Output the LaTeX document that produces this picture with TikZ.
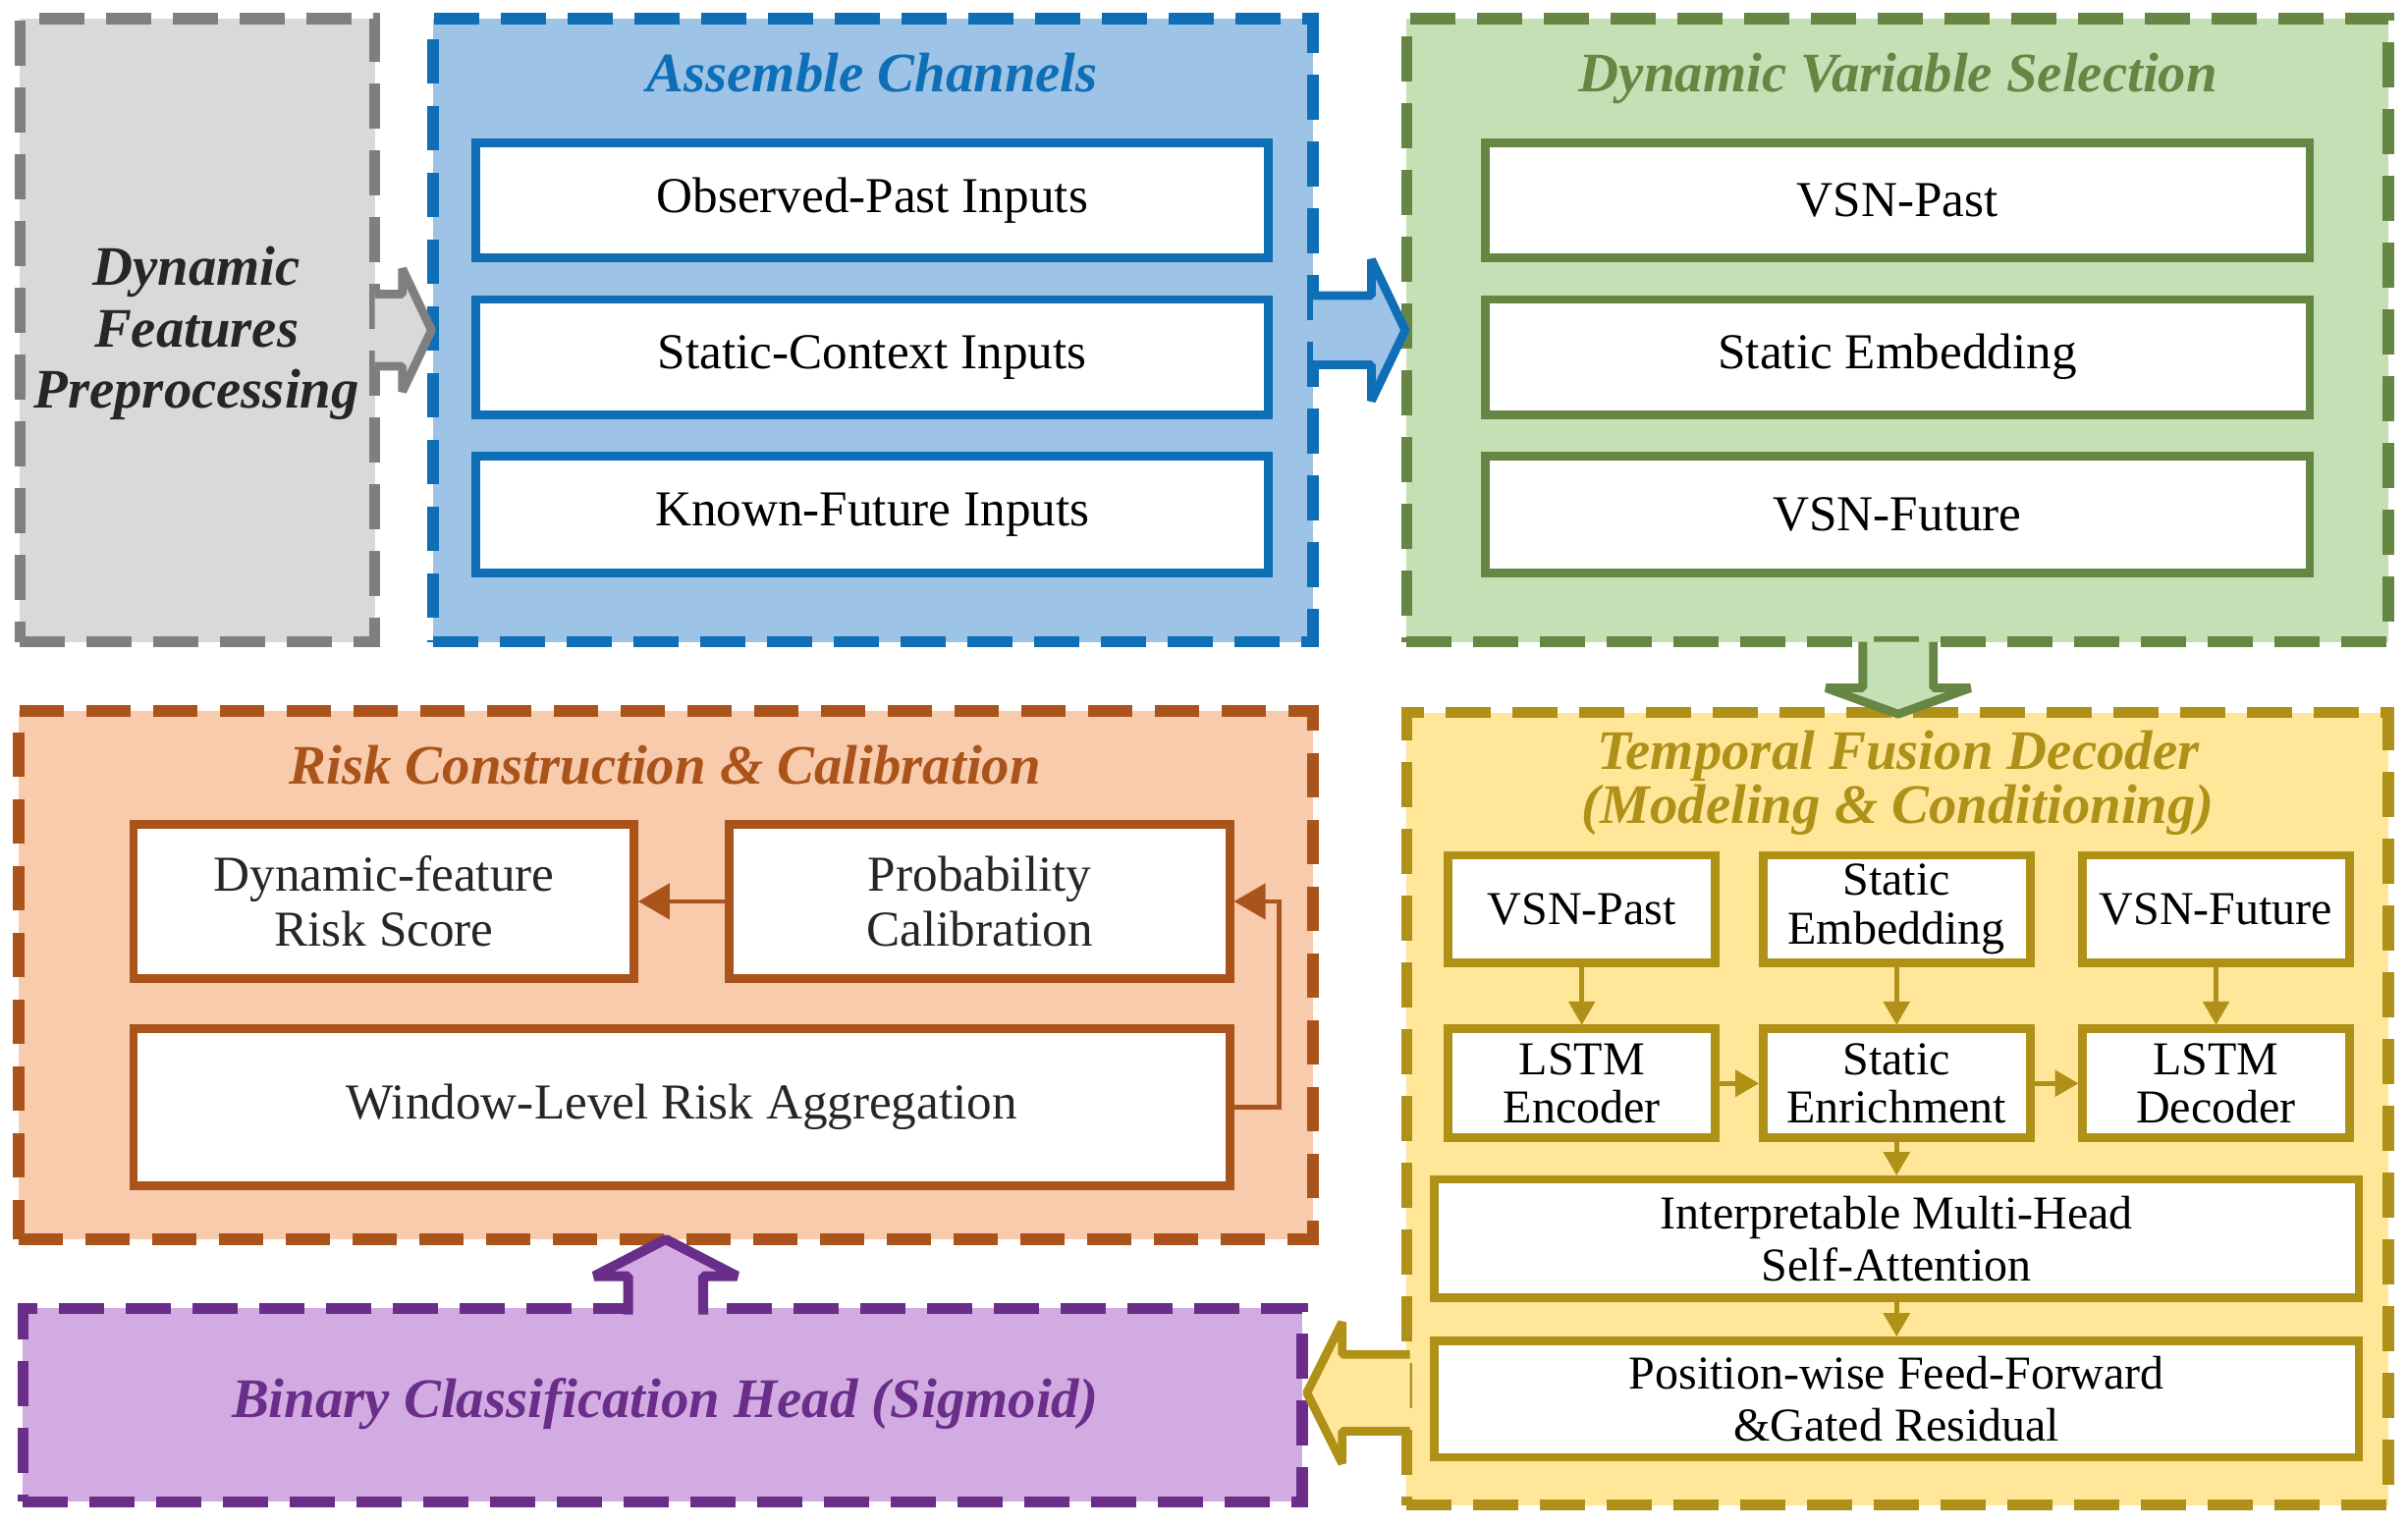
\documentclass[tikz,border=0pt]{standalone}
\usepackage{fontspec}
\setmainfont{Liberation Serif}
\usetikzlibrary{arrows.meta,fit}
\definecolor{grayfill}{HTML}{D9D9D9}
\definecolor{grayline}{HTML}{7F7F7F}
\definecolor{graytext}{HTML}{262626}
\definecolor{bluefill}{HTML}{9DC3E6}
\definecolor{blueline}{HTML}{0E6EB6}
\definecolor{greenfill}{HTML}{C5E0B4}
\definecolor{greenline}{HTML}{668644}
\definecolor{yelfill}{HTML}{FFE699}
\definecolor{yelline}{HTML}{AF9118}
\definecolor{orfill}{HTML}{F8CBAD}
\definecolor{orline}{HTML}{AA541C}
\definecolor{purfill}{HTML}{D1ABE1}
\definecolor{purline}{HTML}{6A2E8A}
\newdimen\un
\un=0.39095pt
\begin{document}
\begin{tikzpicture}[x=0.39095pt, y=-0.39095pt,
  outerbox/.style={line width=2.9pt, dash pattern=on 11.4pt off 5.6pt, inner sep=0pt, outer sep=0pt},
  innerbox/.style={draw, fill=white, line width=2.2pt, inner sep=0pt, outer sep=0pt, align=center},
  bw/.style={minimum width=#1*\un},
  bh/.style={minimum height=#1*\un},
  titletext/.style={font=\fontsize{14.2}{15.6}\selectfont\bfseries\itshape, align=center, inner sep=0pt},
  intext/.style={font=\fontsize{12.8}{14}\selectfont},
  yeltext/.style={font=\fontsize{12}{12.3}\selectfont},
  yelbig/.style={font=\fontsize{12}{13.2}\selectfont},
  blockarrow/.style={line width=2.2pt, line join=bevel},
  yelconn/.style={draw=yelline, line width=1.2pt, -{Triangle[length=6pt,width=6.6pt]}, shorten >=1pt},
  orconn/.style={draw=orline, line width=1.1pt, -{Triangle[length=8pt,width=9pt]}, shorten >=1pt}
]
\useasboundingbox (0,0) rectangle (1568,994);

% ---------- outer boxes ----------
\node[outerbox, draw=grayline, fill=grayfill, fit={(13,12) (244,418)}] (gray) {};
\node[outerbox, draw=blueline, fill=bluefill, fit={(282,12) (855,418)}] (blue) {};
\node[outerbox, draw=greenline, fill=greenfill, fit={(916,12) (1555,418)}] (green) {};
\node[outerbox, draw=orline, fill=orfill, fit={(12,463) (855,807)}] (orange) {};
\node[outerbox, draw=yelline, fill=yelfill, fit={(916,464) (1555,980)}] (yellow) {};
\node[outerbox, draw=purline, fill=purfill, fit={(15,852) (848,978)}] (purple) {};

% ---------- titles ----------
\node[titletext, text=graytext] (graytitle) at (128,217) {Dynamic\\Features\\Preprocessing};
\node[titletext, text=blueline, anchor=base] (bluetitle) at (568,60) {Assemble Channels};
\node[titletext, text=greenline, anchor=base] (greentitle) at (1236,60) {Dynamic Variable Selection};
\node[titletext, text=orline, anchor=base] (ortitle) at (433,510.5) {Risk Construction \& Calibration};
\node[titletext, text=yelline, font=\fontsize{14.2}{13.8}\selectfont\bfseries\itshape] (yeltitle) at (1236,510) {Temporal Fusion Decoder\\(Modeling \& Conditioning)};
\node[titletext, text=purline, anchor=base] (purtitle) at (433,923) {Binary Classification Head (Sigmoid)};

% ---------- blue inner ----------
\node[innerbox, intext, draw=blueline, bw=516, bh=75] (obs) at (568,130.5) {Observed-Past Inputs};
\node[innerbox, intext, draw=blueline, bw=516, bh=75] (stc) at (568,232.5) {Static-Context Inputs};
\node[innerbox, intext, draw=blueline, bw=516, bh=76] (kfi) at (568,335) {Known-Future Inputs};

% ---------- green inner ----------
\node[innerbox, intext, draw=greenline, bw=537, bh=75] (gvp) at (1235.5,130.5) {VSN-Past};
\node[innerbox, intext, draw=greenline, bw=537, bh=75] (gse) at (1235.5,232.5) {Static Embedding};
\node[innerbox, intext, draw=greenline, bw=537, bh=76] (gvf) at (1235.5,335) {VSN-Future};

% ---------- orange inner ----------
\node[innerbox, intext, draw=orline, text=graytext, bw=326, bh=100] (dfr) at (250,587) {Dynamic-feature\\Risk Score};
\node[innerbox, intext, draw=orline, text=graytext, bw=326, bh=100] (pcal) at (638,587) {Probability\\Calibration};
\node[innerbox, intext, draw=orline, text=graytext, bw=714, bh=102] (wla) at (444,721) {Window-Level Risk Aggregation};

% ---------- yellow inner ----------
\node[innerbox, yeltext, draw=yelline, bw=174, bh=70] (yvp) at (1030,592) {VSN-Past};
\node[innerbox, yeltext, draw=yelline, bw=174, bh=70] (yse) at (1235,592) {Static\\Embedding};
\node[innerbox, yeltext, draw=yelline, bw=174, bh=70] (yvf) at (1443,592) {VSN-Future};
\node[innerbox, yeltext, draw=yelline, bw=174, bh=71] (enc) at (1030,705.5) {LSTM\\Encoder};
\node[innerbox, yeltext, draw=yelline, bw=174, bh=71] (enr) at (1235,705.5) {Static\\Enrichment};
\node[innerbox, yeltext, draw=yelline, bw=174, bh=71] (dec) at (1443,705.5) {LSTM\\Decoder};
\node[innerbox, yelbig, draw=yelline, bw=602, bh=77] (att) at (1235,806.5) {Interpretable Multi-Head\\Self-Attention};
\node[innerbox, yelbig, draw=yelline, bw=602, bh=76] (ffn) at (1235,911) {Position-wise Feed-Forward\\\&Gated Residual};

% ---------- yellow connectors ----------
\draw[yelconn] (yvp.south) -- (enc.north);
\draw[yelconn] (yse.south) -- (enr.north);
\draw[yelconn] (yvf.south) -- (dec.north);
\draw[yelconn] (enc.east) -- (enr.west);
\draw[yelconn] (enr.east) -- (dec.west);
\draw[yelconn] (enr.south) -- (att.north);
\draw[yelconn] (att.south) -- (ffn.north);

% ---------- orange connectors ----------
\coordinate (fb) at (833,587);
\draw[orconn] (pcal.west) -- (dfr.east);
\draw[orconn] (wla.east) -| (fb) -- (pcal.east);

% ---------- block arrows ----------
% gray -> blue
\fill[grayfill] (244,191.5) -- (262,191.5) -- (262,175) -- (281,215) -- (262,255) -- (262,238.5) -- (244,238.5) -- cycle;
\draw[blockarrow, grayline] (244,191.5) -- (262,191.5) -- (262,175) -- (281,215) -- (262,255) -- (262,238.5) -- (244,238.5);
% blue -> green
\fill[bluefill] (855,192.5) -- (893,192.5) -- (893,169) -- (915,215) -- (893,261) -- (893,237.5) -- (855,237.5) -- cycle;
\draw[blockarrow, blueline] (855,192.5) -- (893,192.5) -- (893,169) -- (915,215) -- (893,261) -- (893,237.5) -- (855,237.5);
% green -> yellow
\fill[greenfill] (1213,418) -- (1213,448) -- (1189,448) -- (1236,465) -- (1283,448) -- (1259,448) -- (1259,418) -- cycle;
\draw[blockarrow, greenline] (1213,418) -- (1213,448) -- (1189,448) -- (1236,465) -- (1283,448) -- (1259,448) -- (1259,418);
% yellow -> purple
\fill[yelfill] (918,882) -- (874,882) -- (874,861) -- (851,907) -- (874,953) -- (874,932) -- (918,932) -- cycle;
\draw[blockarrow, yelline] (918,882) -- (874,882) -- (874,861) -- (851,907) -- (874,953) -- (874,932) -- (918,932);
% purple -> orange
\fill[purfill] (409,856) -- (409,831) -- (387,831) -- (433.5,807) -- (480,831) -- (458,831) -- (458,856) -- cycle;
\draw[blockarrow, purline, line width=2.5pt] (409,856) -- (409,831) -- (387,831) -- (433.5,807) -- (480,831) -- (458,831) -- (458,856);
\end{tikzpicture}
\end{document}
